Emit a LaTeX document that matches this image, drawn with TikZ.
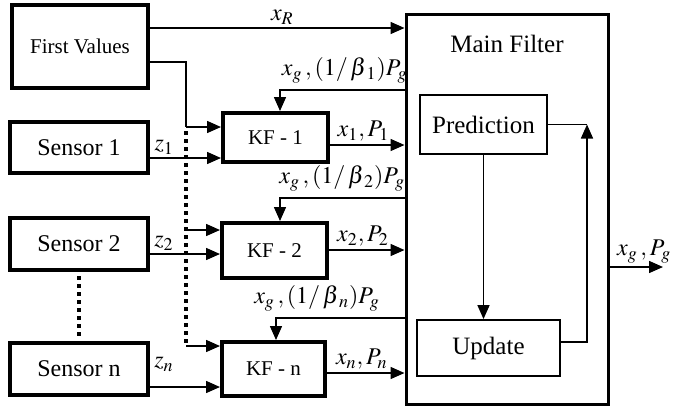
\documentclass[tikz,border=0pt]{standalone}
\usepackage{amsmath,amssymb}
\usepackage{mathptmx}
\usepackage{fontspec}
\setmainfont{Liberation Serif}
\usepackage{tikz}
\usetikzlibrary{arrows.meta}
\tikzset{
  thickbox/.style={draw, line width=2pt, inner sep=0pt},
  stagebox/.style={draw, line width=0.9pt, inner sep=0pt, font=\rmfamily\fontsize{12.5}{14}\selectfont},
  arr/.style={line width=0.75pt, -{Triangle[length=7pt,width=6pt]}},
  wire/.style={line width=0.75pt},
  dots/.style={line width=1.8pt, dash pattern=on 2pt off 2pt},
  lbl/.style={font=\fontsize{12}{14}\selectfont, inner sep=1.5pt}
}

\begin{document}
\begin{tikzpicture}[x=0.5pt, y=-0.5pt]
      \useasboundingbox (0,0) rectangle (676,408);
      % Fontes de dados
      \node[thickbox, minimum width=68pt, minimum height=41.5pt, font=\rmfamily\fontsize{10.5}{12}\selectfont] (fv) at (80,46.5) {First Values};
      \node[thickbox, minimum width=69pt, minimum height=25.5pt, font=\rmfamily\fontsize{12}{14}\selectfont] (s1) at (79,147.5) {Sensor 1};
      \node[thickbox, minimum width=69pt, minimum height=26pt, font=\rmfamily\fontsize{12}{14}\selectfont] (s2) at (79,244) {Sensor 2};
      \node[thickbox, minimum width=69pt, minimum height=26pt, font=\rmfamily\fontsize{12}{14}\selectfont] (sn) at (79,369) {Sensor n};
      % Filtros locais
      \node[thickbox, minimum width=52.5pt, minimum height=24.5pt, font=\rmfamily\fontsize{10.5}{12}\selectfont] (kf1) at (275.5,137.5) {KF - 1};
      \node[thickbox, minimum width=52.5pt, minimum height=27.5pt, font=\rmfamily\fontsize{10.5}{12}\selectfont] (kf2) at (274.5,250.5) {KF - 2};
      \node[thickbox, minimum width=51.5pt, minimum height=27pt, font=\rmfamily\fontsize{10.5}{12}\selectfont] (kfn) at (273.5,369) {KF - n};
      % Filtro principal
      \node[draw, line width=1.5pt, minimum width=101pt, minimum height=195pt] (mf) at (507,209) {};
      \node[font=\rmfamily\fontsize{12.5}{14}\selectfont] (mft) at (507,44) {Main Filter};
      \node[stagebox, minimum width=63.5pt, minimum height=29.5pt] (pred) at (483.5,124.5) {Prediction};
      \node[stagebox, minimum width=71.5pt, minimum height=28pt] (upd) at (488.5,348) {Update};
      \coordinate (ret) at (587,124.5);
      \coordinate (bus) at (186,127);
      \coordinate (out) at (663,267);
      % Entradas dos KF
      \draw[arr] (fv.east |- 0,28) -- node[lbl, above, pos=0.52] {$x_R$} (mf.west |- 0,28);
      \draw[wire] (fv.east |- 0,62) -| (bus);
      \draw[arr] (bus) -- (kf1.west |- bus);
      \draw[dots] (bus) ++(0,4) -- (186,344);
      \draw[arr] (186,230) -- (kf2.west |- 0,230);
      \draw[arr] (186,346) -- (kfn.west |- 0,346);
      \draw[arr] (s1.east |- 0,158) -- node[lbl, above, pos=0.2] {$z_1$} (kf1.west |- 0,158);
      \draw[arr] (s2.east |- 0,254) -- node[lbl, above, pos=0.2] {$z_2$} (kf2.west |- 0,254);
      \draw[arr] (sn.east |- 0,387) -- node[lbl, above, pos=0.2, yshift=6pt] {$z_n$} (kfn.west |- 0,387);
      \draw[dots] ([yshift=-2pt]s2.south) -- ([yshift=2pt]sn.north);
      % Retorno do filtro principal
      \draw[arr] (mf.west |- 0,90) -- node[lbl, above, pos=0.48, yshift=1.5pt] {$x_g\,,(1/\,\beta{}_1)P_g$} (280,90) -- (kf1.north -| 280,0);
      \draw[arr] (mf.west |- 0,198) -- node[lbl, above, pos=0.5, yshift=1.5pt] {$x_g\,,(1/\,\beta{}_2)P_g$} (280,198) -- (kf2.north -| 280,0);
      \draw[arr] (mf.west |- 0,318) -- node[lbl, above, pos=0.68, yshift=1.5pt] {$x_g\,,(1/\,\beta{}_n)P_g$} (276,318) -- (kfn.north -| 276,0);
      % Saidas dos KF
      \draw[arr] (kf1.east |- 0,145) -- node[lbl, above, pos=0.45] {$x_1,P_1$} (mf.west |- 0,145);
      \draw[arr] (kf2.east |- 0,250) -- node[lbl, above, pos=0.45] {$x_2,P_2$} (mf.west |- 0,250);
      \draw[arr] (kfn.east |- 0,373) -- node[lbl, above, pos=0.45] {$x_n,P_n$} (mf.west |- 0,373);
      % Ciclo interno
      \draw[arr] (pred.south) -- (pred.south |- upd.north);
      \draw[wire] (pred.east) -- (ret);
      \draw[arr] (upd.east |- 0,342) -| (ret);
      \draw[arr] (mf.east |- out) -- node[lbl, above, pos=0.65] {$x_g\,,P_g$} (out);
    \end{tikzpicture}
\end{document}
